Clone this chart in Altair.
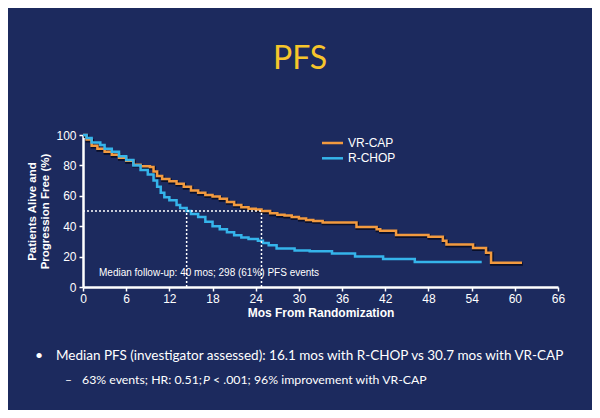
import altair as alt
import pandas as pd

# ---------------- data ----------------
ARMS = ["VR-CAP", "R-CHOP"]
COLORS = ["#f29a3f", "#35b4ea"]

VRCAP_MONTHS = [0, 0.5, 1.2, 2, 3, 4, 5, 6, 7, 8, 9.3, 9.8, 10.3, 11, 12, 13, 14, 15, 16, 17, 18,
                19, 20, 21, 22, 23, 24, 24.8, 26, 27, 28, 29, 30, 31, 32, 33.3, 38, 40.8, 41.3,
                43.5, 48, 50, 50.5, 54.2, 56, 56.7, 61]
VRCAP_PCT = [100, 97, 93, 91, 89, 87, 85, 83, 80.5, 79.5, 79, 76, 73, 71, 69.5, 68, 66, 63.5, 62,
             60.5, 59.5, 58, 56, 54, 52.5, 51.5, 51, 50, 48.5, 47.5, 47, 46, 45, 44, 43.5, 42.5,
             39.5, 38, 37, 34.2, 33, 30.5, 28, 25.6, 22.6, 16, 16]

RCHOP_MONTHS = [0, 0.5, 1.2, 2.4, 3, 4, 5, 6, 7, 8, 9, 9.8, 10.3, 10.8, 11.3, 12, 13, 13.5, 14.4,
                15, 16, 17, 18, 19, 20, 21, 22, 23, 24.3, 25, 25.8, 26.9, 29.4, 31.5, 34.6, 37.8,
                41.7, 46.1, 55.4]
RCHOP_PCT = [100, 98, 95, 93.5, 91, 89, 86, 83.5, 80, 77, 74, 70, 66, 62, 59, 57, 54, 52, 50,
             48, 46, 43, 40, 38, 36, 34, 32.5, 31.5, 30.5, 29, 27.5, 25.4, 24, 23.5, 22, 20,
             18.5, 16.5, 16.5]

MEDIAN_MONTHS = [14.4, 24.8]
MEDIAN_LEVEL = 50
X_TICKS = list(range(0, 67, 6))
Y_TICKS = list(range(0, 101, 20))

TITLE = "PFS"
Y_TITLE = ["Patients Alive and", "Progression Free (%)"]
X_TITLE = "Mos From Randomization"
NOTE = "Median follow-up: 40 mos; 298 (61%) PFS events"
BULLET1 = "Median PFS (investigator assessed): 16.1 mos with R-CHOP vs 30.7 mos with VR-CAP"
BULLET2_A = "63% events; HR: 0.51;"
BULLET2_P = "P"
BULLET2_B = "< .001; 96% improvement with VR-CAP"

BG = "#1c2a5e"
W, H = 475, 152

curves = pd.concat([
    pd.DataFrame({"month": VRCAP_MONTHS, "pct": VRCAP_PCT, "arm": ARMS[0]}),
    pd.DataFrame({"month": RCHOP_MONTHS, "pct": RCHOP_PCT, "arm": ARMS[1]}),
], ignore_index=True)

xscale = alt.Scale(domain=[0, 66], nice=False, zero=False)
yscale = alt.Scale(domain=[0, 100], nice=False)

xaxis = alt.Axis(values=X_TICKS, title=X_TITLE, grid=False, labelColor="white",
                 labelFontSize=12, labelFont="Liberation Sans", labelPadding=2,
                 domainColor="white", domainWidth=2.5, tickColor="white", tickSize=4,
                 tickWidth=1.5, titleColor="white", titleFont="Liberation Sans",
                 titleFontSize=12, titleFontWeight="bold", titlePadding=3, labelFlush=False,
                 labelOverlap=False)
yaxis = alt.Axis(values=Y_TICKS, title=Y_TITLE, grid=False, labelColor="white",
                 labelFontSize=12, labelFont="Liberation Sans", labelPadding=3,
                 domainColor="white", domainWidth=2.5, tickColor="white", tickSize=4,
                 tickWidth=1.5, titleColor="white", titleFont="Liberation Sans",
                 titleFontSize=11.5, titleFontWeight="bold", titlePadding=5,
                 titleLineHeight=13.5, labelFlush=False, labelOverlap=False)

X = lambda f: alt.X(f, scale=xscale, axis=xaxis)
Y = lambda f: alt.Y(f, scale=yscale, axis=yaxis)

base = alt.Chart(curves)

shadow = base.transform_filter(alt.datum.arm == ARMS[0]).mark_line(
    interpolate="step-after", strokeWidth=3.5, color="#0a0f28", yOffset=1.2, xOffset=0.8
).encode(x=X("month:Q"), y=Y("pct:Q"), detail="arm:N")

lines = base.mark_line(interpolate="step-after", strokeWidth=2.5).encode(
    x=X("month:Q"), y=Y("pct:Q"),
    color=alt.Color("arm:N", scale=alt.Scale(domain=ARMS, range=COLORS), legend=None),
    order=alt.Order("month:Q"),
)

med = pd.DataFrame({"m": MEDIAN_MONTHS, "lvl": MEDIAN_LEVEL, "zero": 0})
vrules = alt.Chart(med).mark_rule(color="white", strokeDash=[2, 2], strokeWidth=1.5).encode(
    x=X("m:Q"), y=Y("zero:Q"), y2="lvl:Q")
hrule = alt.Chart(med).transform_aggregate(mx="max(m)", lvl="max(lvl)", z="min(zero)").mark_rule(
    color="white", strokeDash=[2, 2], strokeWidth=1.5).encode(x=X("z:Q"), x2="mx:Q", y=Y("lvl:Q"))

def text_layer(txt, x, y, size, color="white", font="Liberation Sans", weight="normal",
               align="left", style="normal"):
    return alt.Chart(pd.DataFrame({"t": [txt]})).mark_text(
        align=align, baseline="middle", fontSize=size, color=color, font=font,
        fontWeight=weight, fontStyle=style
    ).encode(x=alt.value(x), y=alt.value(y), text="t:N")

layers = [shadow, lines, vrules, hrule]

# legend
for i, (name, col) in enumerate(zip(ARMS, COLORS)):
    yy = 8 + 15.3 * i
    layers.append(alt.Chart(pd.DataFrame({"n": [name]})).mark_rule(color=col, strokeWidth=2.5).encode(
        x=alt.value(239), x2=alt.value(260), y=alt.value(yy)))
    layers.append(text_layer(name, 265, yy, 12))

layers.append(text_layer(NOTE, 16, 137.5, 10))
layers.append(text_layer(TITLE, 217, -76, 32, color="#f6c52b", font="Lato", align="center"))
layers.append(text_layer("•", -48, 221, 14, font="Lato"))
layers.append(text_layer(BULLET1, -27, 221, 13.5, font="Lato"))
layers.append(text_layer("–", -18, 245, 12, font="Lato"))
layers.append(text_layer(BULLET2_A, -1, 245, 12.3, font="Lato"))
layers.append(text_layer(BULLET2_P, 120, 245, 12.3, font="Lato", style="italic"))
layers.append(text_layer(BULLET2_B, 130, 245, 12.3, font="Lato"))

chart = alt.layer(*layers).properties(
    width=W, height=H, background=BG,
    padding={"left": 75, "top": 127, "right": 34, "bottom": 123},
    autosize=alt.AutoSizeParams(type="none"),
).configure_view(stroke=None)

chart.save("out.html", embed_options={"renderer": "svg", "actions": False})
